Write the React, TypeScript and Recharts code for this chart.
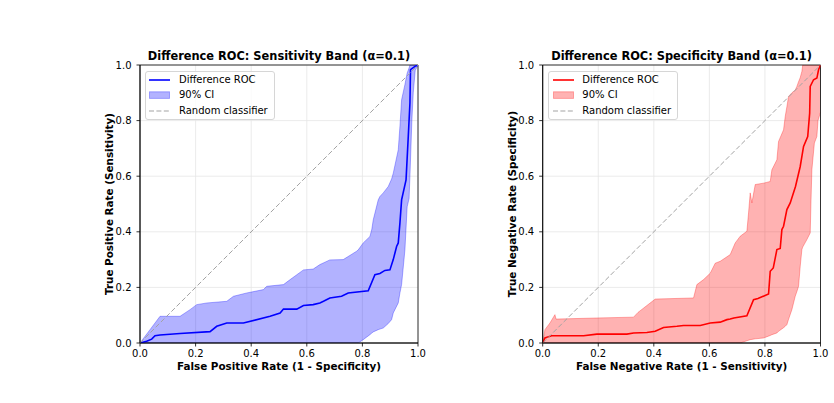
import React from 'react';
import {
  ComposedChart,
  Area,
  Line,
  XAxis,
  YAxis,
  CartesianGrid,
  ReferenceLine,
  ReferenceArea,
  Legend,
} from 'recharts';

const TICKS = [0, 0.2, 0.4, 0.6, 0.8, 1.0];
const LEGEND_LABELS = ['Difference ROC', '90% CI', 'Random classifier'];

// Sensitivity band (left panel)
const sensBandX = [
  0, 0.036, 0.072, 0.144, 0.18, 0.204, 0.24, 0.312, 0.336, 0.384, 0.444, 0.456, 0.516, 0.54,
  0.588, 0.623, 0.647, 0.683, 0.731, 0.779, 0.785, 0.803, 0.827, 0.834, 0.839, 0.857, 0.863,
  0.875, 0.893, 0.905, 0.911, 0.929, 0.935, 0.941, 0.953, 0.961, 0.968, 0.971, 0.978, 0.983,
  0.99, 1,
];
const sensBandLower = [
  0, 0, 0, 0, 0, 0, 0, 0, 0, 0, 0, 0, 0, 0,
  0, 0, 0, 0, 0, 0, 0, 0.012, 0.03, 0.036, 0.04, 0.048, 0.05,
  0.054, 0.07, 0.084, 0.108, 0.144, 0.18, 0.21, 0.335, 0.49, 0.52, 0.6, 0.8, 0.9,
  0.98, 1,
];
const sensBandUpper = [
  0, 0.048, 0.096, 0.096, 0.12, 0.138, 0.144, 0.15, 0.168, 0.18, 0.192, 0.204, 0.21, 0.228,
  0.263, 0.266, 0.282, 0.299, 0.3, 0.33, 0.335, 0.36, 0.383, 0.41, 0.443, 0.515, 0.527,
  0.54, 0.563, 0.59, 0.611, 0.695, 0.78, 0.875, 0.93, 0.971, 0.99, 1, 1, 1,
  1, 1,
];
const sensRocX = [
  0, 0.024, 0.042, 0.054, 0.072, 0.144, 0.252, 0.276, 0.312, 0.372, 0.468, 0.504, 0.516, 0.564,
  0.588, 0.623, 0.647, 0.66, 0.683, 0.725, 0.749, 0.821, 0.845, 0.863, 0.881, 0.899, 0.911,
  0.923, 0.929, 0.935, 0.941, 0.957, 0.965, 0.971, 0.973, 0.989, 1,
];
const sensRocY = [
  0, 0.006, 0.014, 0.026, 0.029, 0.034, 0.041, 0.06, 0.072, 0.072, 0.096, 0.108, 0.122, 0.122,
  0.135, 0.138, 0.144, 0.15, 0.162, 0.168, 0.18, 0.188, 0.246, 0.25, 0.261, 0.263, 0.3,
  0.347, 0.36, 0.432, 0.515, 0.587, 0.743, 0.863, 0.983, 0.995, 1,
];

// Specificity band (right panel)
const specBandX = [
  0, 0.008, 0.026, 0.044, 0.048, 0.195, 0.327, 0.343, 0.405, 0.543, 0.555, 0.579, 0.603, 0.621,
  0.639, 0.675, 0.693, 0.711, 0.735, 0.741, 0.747, 0.753, 0.765, 0.795, 0.819, 0.825, 0.843,
  0.849, 0.867, 0.873, 0.879, 0.885, 0.897, 0.909, 0.915, 0.921, 0.927, 0.933, 0.936, 0.951,
  0.963, 0.966, 0.969, 0.978, 0.987, 0.991, 1,
];
const specBandLower = [
  0, 0, 0, 0, 0, 0, 0, 0, 0, 0, 0, 0, 0, 0,
  0, 0, 0, 0, 0.008, 0.01, 0.012, 0.013, 0.015, 0.018, 0.027, 0.03, 0.036,
  0.042, 0.055, 0.06, 0.066, 0.085, 0.12, 0.168, 0.185, 0.204, 0.276, 0.336, 0.345, 0.372,
  0.396, 0.516, 0.623, 0.719, 0.743, 0.8, 0.83,
];
const specBandUpper = [
  0, 0.048, 0.072, 0.102, 0.086, 0.09, 0.093, 0.11, 0.158, 0.162, 0.21, 0.228, 0.251, 0.287,
  0.294, 0.318, 0.36, 0.384, 0.402, 0.468, 0.54, 0.504, 0.57, 0.575, 0.581, 0.623, 0.659,
  0.725, 0.767, 0.815, 0.85, 0.887, 0.9, 0.91, 0.923, 0.94, 0.955, 0.977, 1, 1,
  1, 1, 1, 1, 1, 1, 1,
];
const specRocX = [
  0, 0.008, 0.032, 0.147, 0.195, 0.303, 0.327, 0.375, 0.405, 0.435, 0.483, 0.507, 0.567, 0.603,
  0.639, 0.663, 0.675, 0.688, 0.735, 0.759, 0.775, 0.813, 0.819, 0.83, 0.843, 0.855, 0.861,
  0.867, 0.879, 0.891, 0.91, 0.927, 0.939, 0.954, 0.961, 0.963, 0.975, 0.987, 0.993, 1,
];
const specRocY = [
  0, 0.018, 0.026, 0.026, 0.032, 0.032, 0.036, 0.038, 0.042, 0.056, 0.06, 0.063, 0.063, 0.072,
  0.075, 0.084, 0.086, 0.09, 0.098, 0.156, 0.16, 0.176, 0.258, 0.27, 0.336, 0.34, 0.408,
  0.42, 0.48, 0.504, 0.563, 0.635, 0.707, 0.743, 0.827, 0.923, 0.947, 0.953, 0.983, 1,
];

const FONT = '"DejaVu Sans", sans-serif';
const DIAG_COLOR = '#a3a3a3';
const DIAG_DASH = '5 2.4';
const fmt = (v: number) => v.toFixed(1);

type PanelProps = {
  left: number;
  width: number;
  marginLeft: number;
  marginRight: number;
  color: string;
  bandX: number[];
  bandLower: number[];
  bandUpper: number[];
  rocX: number[];
  rocY: number[];
  legendLeft: number;
};

const makeLegend = (color: string) => () => {
  const handle = (i: number) => {
    if (i === 0)
      return <line x1={0} y1={5} x2={21} y2={5} stroke={color} strokeWidth={1.6} />;
    if (i === 1)
      return (
        <rect x={0.5} y={1.8} width={20} height={6.6} fill={color} fillOpacity={0.3} stroke={color} strokeOpacity={0.3} />
      );
    return <line x1={0} y1={5} x2={21} y2={5} stroke={DIAG_COLOR} strokeWidth={1} strokeDasharray={DIAG_DASH} />;
  };
  return (
    <div
      style={{
        width: 130,
        height: 49,
        boxSizing: 'border-box',
        border: '1px solid #d6d6d6',
        borderRadius: 3,
        background: 'rgba(255,255,255,0.8)',
        fontFamily: FONT,
        fontSize: 10,
        color: '#000',
        paddingTop: 0.5,
      }}
    >
      {LEGEND_LABELS.map((label, i) => (
        <div key={label} style={{ display: 'flex', alignItems: 'center', height: 15.5 }}>
          <svg width={21} height={10} style={{ marginLeft: 3.3, flex: 'none' }}>
            {handle(i)}
          </svg>
          <span style={{ marginLeft: 8.7, whiteSpace: 'nowrap', lineHeight: '12px' }}>{label}</span>
        </div>
      ))}
    </div>
  );
};

function Panel(p: PanelProps) {
  const bandRows = p.bandX.map((x, i) => ({ x, band: [p.bandLower[i], p.bandUpper[i]] }));
  const rocRows = p.rocX.map((x, i) => ({ x, roc: p.rocY[i] }));
  const axisStyle = { fill: '#000', fontSize: 10, fontFamily: FONT };
  return (
    <div style={{ position: 'absolute', left: p.left, top: 0 }}>
      <ComposedChart
        width={p.width}
        height={403}
        data={bandRows}
        margin={{ top: 65, right: p.marginRight, bottom: 35, left: p.marginLeft }}
        style={{ fontFamily: FONT }}
      >
        <CartesianGrid stroke="#e6e6e6" strokeWidth={0.8} />
        <XAxis
          type="number"
          dataKey="x"
          domain={[0, 1]}
          ticks={TICKS}
          interval={0}
          tickFormatter={fmt}
          allowDataOverflow
          height={25}
          tickSize={3.5}
          tickMargin={3}
          tick={axisStyle}
          axisLine={{ stroke: '#000', strokeWidth: 0.8 }}
          tickLine={{ stroke: '#000', strokeWidth: 0.8 }}
        />
        <YAxis
          type="number"
          domain={[0, 1]}
          ticks={TICKS}
          interval={0}
          tickFormatter={fmt}
          allowDataOverflow
          width={40}
          tickSize={3.5}
          tickMargin={5}
          tick={axisStyle}
          axisLine={{ stroke: '#000', strokeWidth: 0.8 }}
          tickLine={{ stroke: '#000', strokeWidth: 0.8 }}
        />
        <Area
          type="linear"
          dataKey="band"
          fill={p.color}
          fillOpacity={0.3}
          stroke={p.color}
          strokeOpacity={0.3}
          strokeWidth={1}
          isAnimationActive={false}
          activeDot={false}
          dot={false}
        />
        <Line
          type="linear"
          data={rocRows}
          dataKey="roc"
          stroke={p.color}
          strokeWidth={1.6}
          dot={false}
          activeDot={false}
          isAnimationActive={false}
        />
        <ReferenceLine
          segment={[
            { x: 0, y: 0 },
            { x: 1, y: 1 },
          ]}
          stroke={DIAG_COLOR}
          strokeWidth={1}
          strokeDasharray={DIAG_DASH}
        />
        <ReferenceArea x1={0} x2={1} y1={0} y2={1} fill="none" stroke="#000" strokeWidth={0.8} ifOverflow="visible" />
        <Legend
          layout="vertical"
          align="center"
          verticalAlign="middle"
          content={makeLegend(p.color)}
          wrapperStyle={{ left: p.legendLeft, top: 70.7, width: 130, height: 49 }}
        />
      </ComposedChart>
    </div>
  );
}

const titleStyle: React.CSSProperties = {
  position: 'absolute',
  top: 49,
  transform: 'translateX(-50%)',
  fontFamily: FONT,
  fontWeight: 'bold',
  fontSize: 11.4,
  lineHeight: '14px',
  whiteSpace: 'nowrap',
  color: '#000',
};
const xLabelStyle: React.CSSProperties = {
  position: 'absolute',
  top: 360,
  transform: 'translateX(-50%)',
  fontFamily: FONT,
  fontWeight: 'bold',
  fontSize: 10.4,
  lineHeight: '12px',
  whiteSpace: 'nowrap',
  color: '#000',
};
const yLabelStyle: React.CSSProperties = {
  position: 'absolute',
  top: 204,
  transform: 'translate(-50%, -50%) rotate(-90deg)',
  fontFamily: FONT,
  fontWeight: 'bold',
  fontSize: 10.4,
  lineHeight: '12px',
  whiteSpace: 'nowrap',
  color: '#000',
};

export default function App() {
  return (
    <div style={{ position: 'absolute', left: 0, top: 0, width: 834, height: 403, background: '#fff', overflow: 'hidden' }}>
      <Panel
        left={0}
        width={460}
        marginLeft={100}
        marginRight={42}
        color="#0000ff"
        bandX={sensBandX}
        bandLower={sensBandLower}
        bandUpper={sensBandUpper}
        rocX={sensRocX}
        rocY={sensRocY}
        legendLeft={145}
      />
      <Panel
        left={417}
        width={417}
        marginLeft={85.7}
        marginRight={13.5}
        color="#ff0000"
        bandX={specBandX}
        bandLower={specBandLower}
        bandUpper={specBandUpper}
        rocX={specRocX}
        rocY={specRocY}
        legendLeft={131.3}
      />
      <div style={{ ...titleStyle, left: 279 }}>Difference ROC: Sensitivity Band (α=0.1)</div>
      <div style={{ ...titleStyle, left: 681.6 }}>Difference ROC: Specificity Band (α=0.1)</div>
      <div style={{ ...xLabelStyle, left: 279 }}>False Positive Rate (1 - Specificity)</div>
      <div style={{ ...xLabelStyle, left: 681.6 }}>False Negative Rate (1 - Sensitivity)</div>
      <div style={{ ...yLabelStyle, left: 109 }}>True Positive Rate (Sensitivity)</div>
      <div style={{ ...yLabelStyle, left: 511.5 }}>True Negative Rate (Specificity)</div>
    </div>
  );
}
